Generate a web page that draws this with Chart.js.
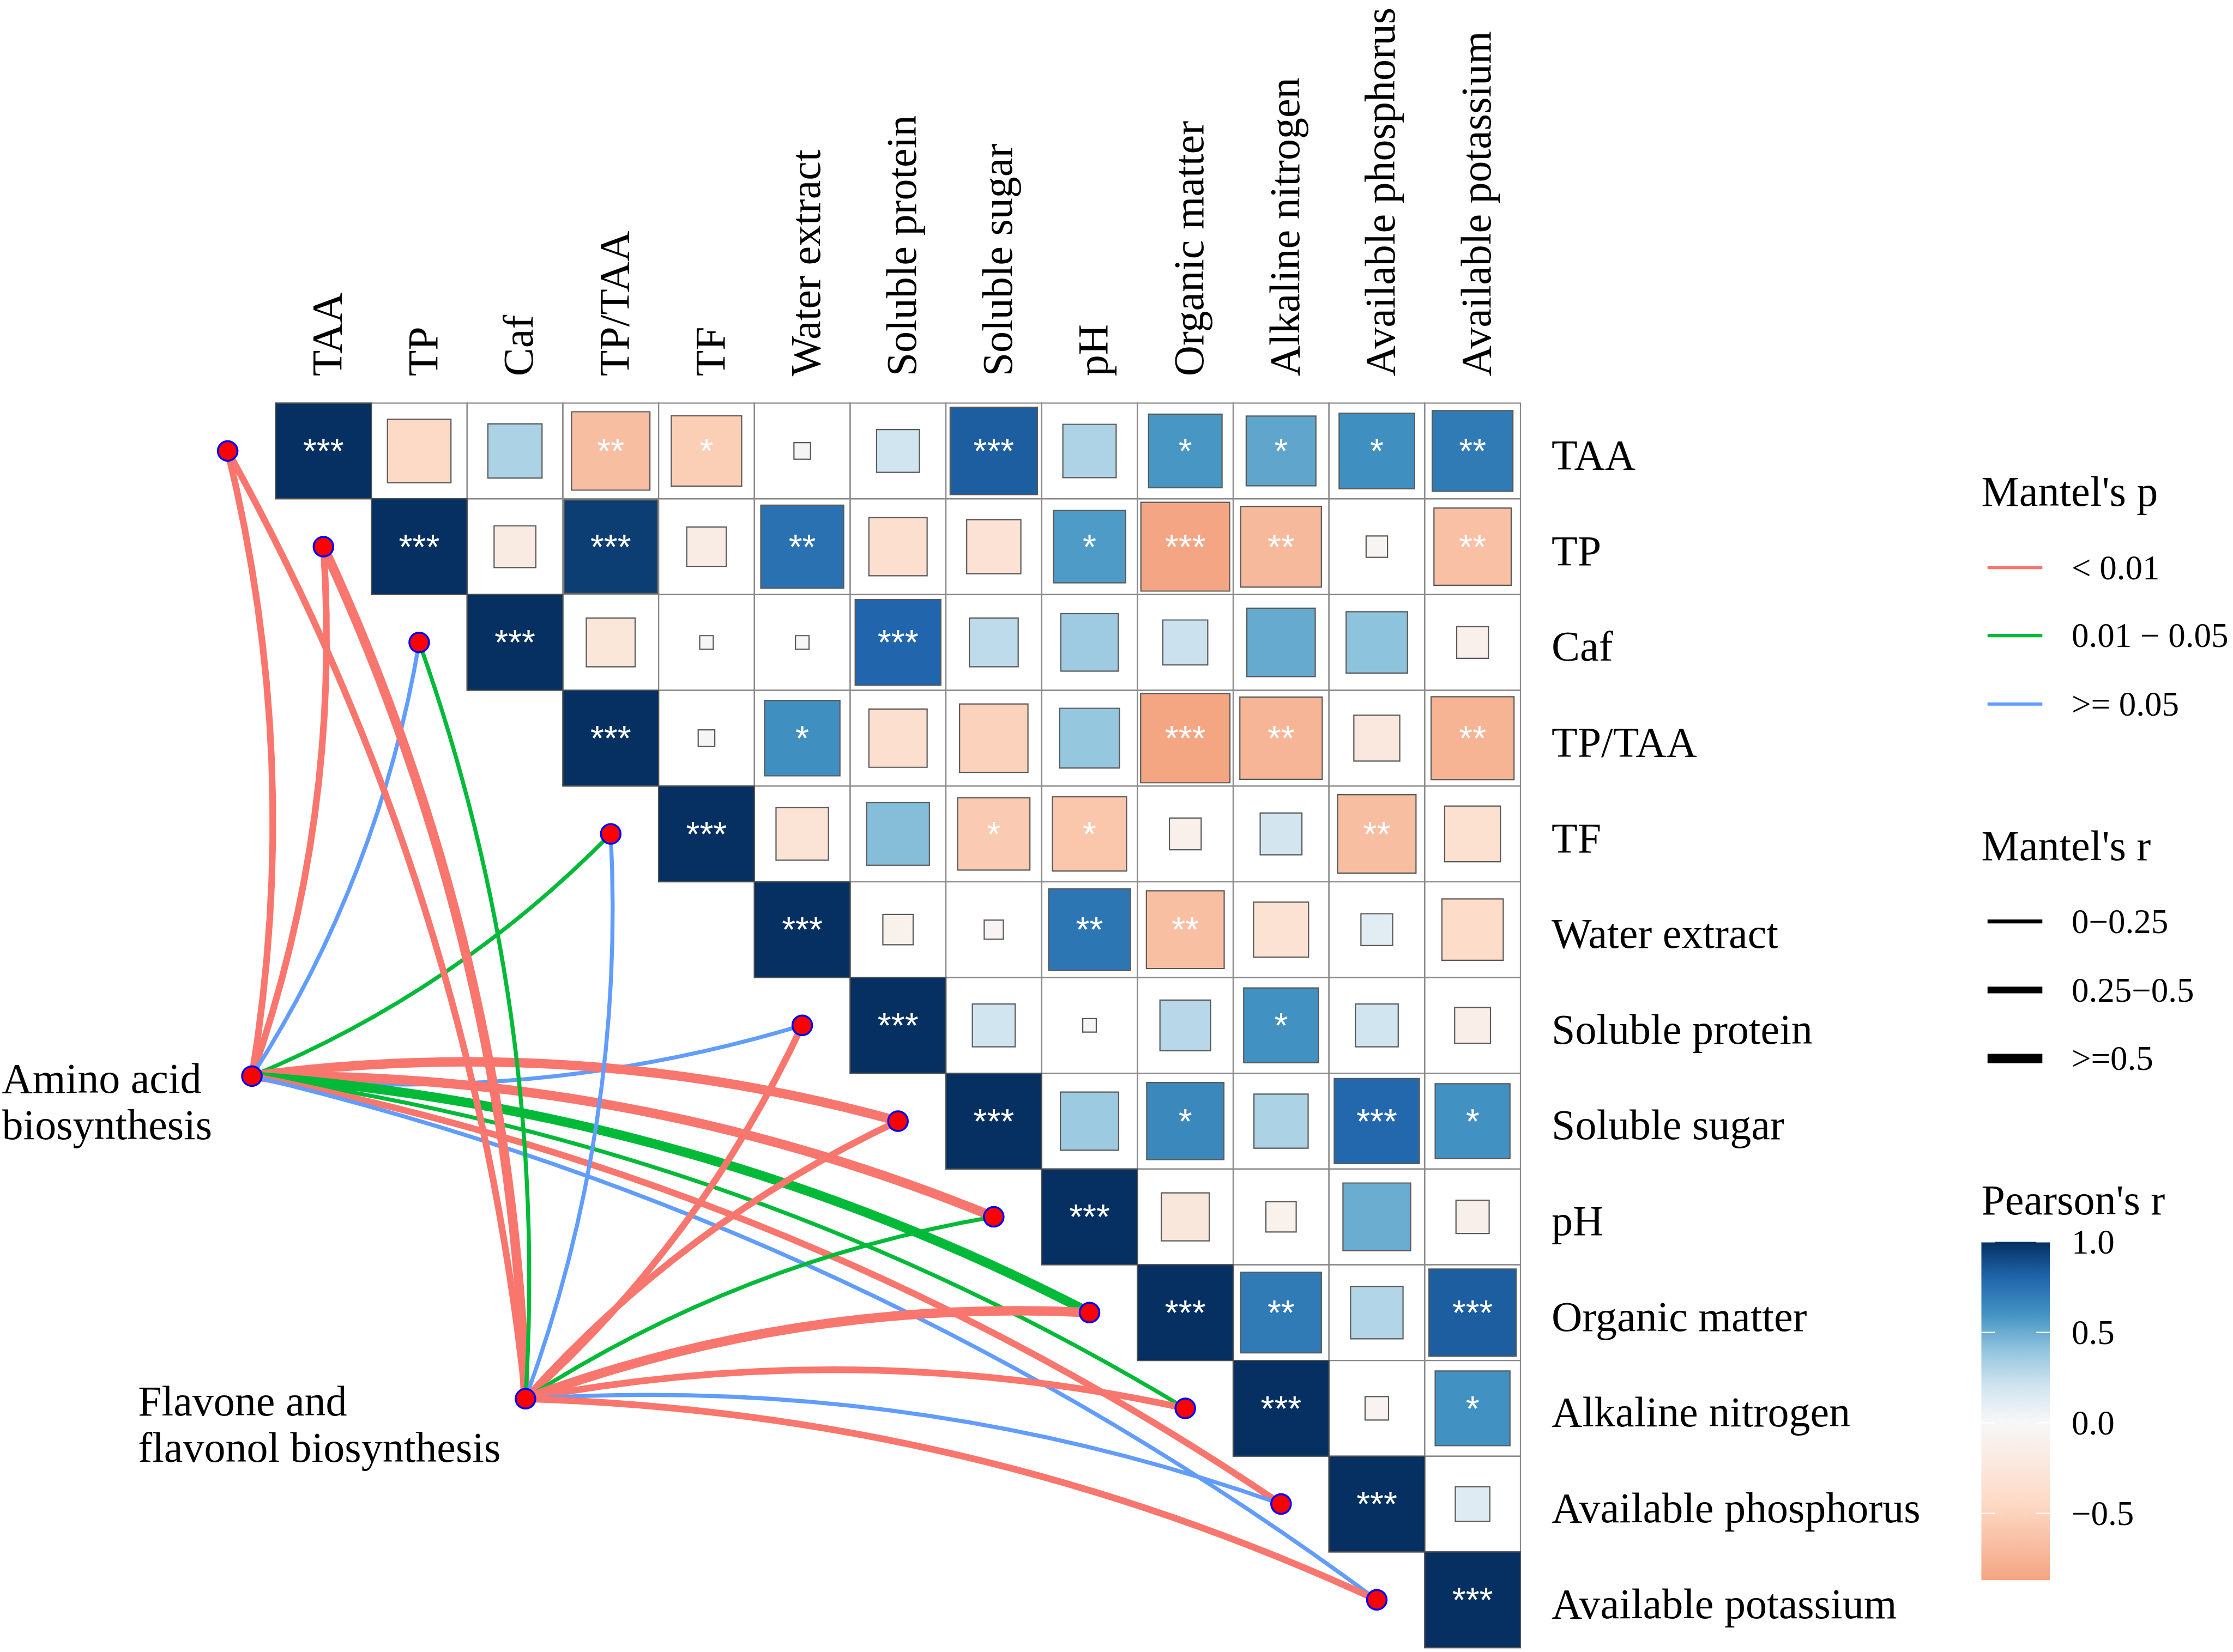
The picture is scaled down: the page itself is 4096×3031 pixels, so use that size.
<!DOCTYPE html>
<html>
<head>
<meta charset="utf-8">
<script src="https://cdn.jsdelivr.net/npm/chart.js@4.4.1/dist/chart.umd.min.js"></script>
<style>
  html, body { margin: 0; padding: 0; background: #fff; }
  canvas { display: block; }
</style>
</head>
<body>
<canvas id="chart" width="4096" height="3031"></canvas>
<script>
// ---------- data ----------
const VARS = [
  "TAA", "TP", "Caf", "TP/TAA", "TF", "Water extract", "Soluble protein",
  "Soluble sugar", "pH", "Organic matter", "Alkaline nitrogen",
  "Available phosphorus", "Available potassium",
];

// Pearson's r, upper triangle: row i starts at column i
const R_ROWS = [
  [1, -0.44, 0.32, -0.67, -0.54, -0.03, 0.2, 0.83, 0.31, 0.59, 0.53, 0.62, 0.71],
  [1, -0.19, 0.95, -0.17, 0.75, -0.37, -0.32, 0.57, -0.86, -0.71, -0.05, -0.65],
  [1, -0.26, -0.02, -0.02, 0.8, 0.26, 0.36, 0.22, 0.51, 0.41, -0.11],
  [1, -0.03, 0.62, -0.37, -0.51, 0.39, -0.87, -0.74, -0.23, -0.75],
  [1, -0.3, 0.43, -0.57, -0.6, -0.11, 0.19, -0.67, -0.34],
  [1, -0.1, -0.04, 0.73, -0.66, -0.33, 0.11, -0.41],
  [1, 0.2, -0.02, 0.28, 0.61, 0.2, -0.14],
  [1, 0.37, 0.65, 0.32, 0.79, 0.61],
  [1, -0.25, -0.1, 0.5, -0.12],
  [1, 0.71, 0.3, 0.83],
  [1, -0.06, 0.61],
  [1, 0.13],
  [1],
];
const SIG_ROWS = [
  ["***", "", "", "**", "*", "", "", "***", "", "*", "*", "*", "**"],
  ["***", "", "***", "", "**", "", "", "*", "***", "**", "", "**"],
  ["***", "", "", "", "***", "", "", "", "", "", ""],
  ["***", "", "*", "", "", "", "***", "**", "", "**"],
  ["***", "", "", "*", "*", "", "", "**", ""],
  ["***", "", "", "**", "**", "", "", ""],
  ["***", "", "", "", "*", "", ""],
  ["***", "", "*", "", "***", "*"],
  ["***", "", "", "", ""],
  ["***", "**", "", "***"],
  ["***", "", "*"],
  ["***", ""],
  ["***"],
];

// Mantel test links
const MANTEL_TARGETS = [
  "TAA", "TP", "Caf", "TF", "Soluble protein", "Soluble sugar", "pH",
  "Organic matter", "Alkaline nitrogen", "Available phosphorus", "Available potassium",
];
const P_LEVELS = ["< 0.01", "0.01 \u2212 0.05", ">= 0.05"];
const R_LEVELS = ["0\u22120.25", "0.25\u22120.5", ">=0.5"];
// level index into P_LEVELS / R_LEVELS, one per target
const AMINO_P = [0, 0, 2, 1, 2, 0, 0, 1, 1, 0, 2];
const AMINO_R = [1, 1, 0, 0, 0, 2, 2, 2, 0, 1, 0];
const FLAV_P = [0, 0, 1, 2, 0, 0, 1, 0, 0, 2, 0];
const FLAV_R = [1, 2, 0, 0, 1, 1, 0, 2, 1, 0, 1];

const PEARSON_TICKS = [1.0, 0.5, 0.0, -0.5];
const PEARSON_MIN = -0.87;
const PEARSON_MAX = 1;

// ---------- style / layout ----------
const S = 0.867;
const W = 4096, H = 3031;
const CELL = 202.6 * S;
const GRID_X0 = 583 * S;
const GRID_Y0 = 853 * S;
const SERIF = '"Liberation Serif", "Times New Roman", serif';
const SANS = '"Liberation Sans", Arial, sans-serif';
const P_COLORS = ["#F8766D", "#00BA38", "#619CFF"];
const R_WIDTHS = [8.5 * S, 14 * S, 20 * S];
const AMINO_NODE = { x: -0.247, y: 7.03 };
const FLAV_NODE = { x: 2.61, y: 10.4 };
const CURV = 0.102;
const FILL_STOPS = [
  [-0.87, "#F4A582"], [-0.435, "#FDDBC7"], [0, "#F7F7F7"], [0.2, "#D1E5F0"],
  [0.4, "#92C5DE"], [0.6, "#4393C3"], [0.8, "#2166AC"], [1, "#053061"],
];

// ---------- helpers ----------
function hex2rgb(h) {
  return [1, 3, 5].map((i) => parseInt(h.slice(i, i + 2), 16));
}
function fillFor(v) {
  if (v <= FILL_STOPS[0][0]) return FILL_STOPS[0][1];
  for (let k = 1; k < FILL_STOPS.length; k++) {
    const [v1, c1] = FILL_STOPS[k];
    if (v <= v1) {
      const [v0, c0] = FILL_STOPS[k - 1];
      const t = (v - v0) / (v1 - v0);
      const a = hex2rgb(c0), b = hex2rgb(c1);
      const m = a.map((x, i) => Math.round(x + (b[i] - x) * t));
      return `rgb(${m[0]},${m[1]},${m[2]})`;
    }
  }
  return FILL_STOPS[FILL_STOPS.length - 1][1];
}
function cellPx(chart) {
  const x = chart.scales.x;
  return x.getPixelForValue(1) - x.getPixelForValue(0);
}

// cells as scatter points
const cellPoints = [];
R_ROWS.forEach((row, i) => {
  row.forEach((v, k) => {
    const j = i + k;
    cellPoints.push({ x: j + 0.5, y: i + 0.5, v, sig: SIG_ROWS[i][k], diag: j === i });
  });
});

// target dots sit one cell left of the diagonal
const targetPoint = (name) => {
  const i = VARS.indexOf(name);
  return { x: i - 0.5, y: i + 0.5, row: i };
};
const dotPoints = MANTEL_TARGETS.map(targetPoint).concat([AMINO_NODE, FLAV_NODE]);

// ---------- plugins ----------
const bgPlugin = {
  id: "bg",
  beforeDraw(chart) {
    const c = chart.ctx;
    c.save();
    c.fillStyle = "#fff";
    c.fillRect(0, 0, chart.width, chart.height);
    c.restore();
  },
};

const gridPlugin = {
  id: "grid",
  beforeDatasetsDraw(chart) {
    const c = chart.ctx, xs = chart.scales.x, ys = chart.scales.y;
    c.save();
    c.strokeStyle = "#8a8a8a";
    c.lineWidth = 2.2;
    for (let i = 0; i < VARS.length; i++) {
      for (let j = i; j < VARS.length; j++) {
        const x0 = xs.getPixelForValue(j), x1 = xs.getPixelForValue(j + 1);
        const y0 = ys.getPixelForValue(i), y1 = ys.getPixelForValue(i + 1);
        c.strokeRect(x0, y0, x1 - x0, y1 - y0);
      }
    }
    c.restore();
  },
};

const mantelPlugin = {
  id: "mantel",
  beforeDatasetsDraw(chart) {
    const c = chart.ctx, xs = chart.scales.x, ys = chart.scales.y;
    const links = [
      [AMINO_NODE, AMINO_P, AMINO_R],
      [FLAV_NODE, FLAV_P, FLAV_R],
    ];
    c.save();
    c.lineCap = "butt";
    links.forEach(([node, pl, rl]) => {
      const p0 = { x: xs.getPixelForValue(node.x), y: ys.getPixelForValue(node.y) };
      MANTEL_TARGETS.forEach((name, k) => {
        const t = targetPoint(name);
        const p1 = { x: xs.getPixelForValue(t.x), y: ys.getPixelForValue(t.y) };
        const dx = p1.x - p0.x, dy = p1.y - p0.y;
        const sgn = t.row <= 6 ? 1 : -1;
        const cx = (p0.x + p1.x) / 2 - dy * CURV * sgn;
        const cy = (p0.y + p1.y) / 2 + dx * CURV * sgn;
        c.beginPath();
        c.moveTo(p0.x, p0.y);
        c.quadraticCurveTo(cx, cy, p1.x, p1.y);
        c.strokeStyle = P_COLORS[pl[k]];
        c.lineWidth = R_WIDTHS[rl[k]];
        c.stroke();
      });
    });
    c.restore();
  },
};

const textPlugin = {
  id: "texts",
  afterDatasetsDraw(chart) {
    const c = chart.ctx, xs = chart.scales.x, ys = chart.scales.y;
    const cp = cellPx(chart);
    c.save();

    // significance stars
    const sf = 64;
    c.fillStyle = "#fff";
    c.textAlign = "center";
    c.textBaseline = "alphabetic";
    c.font = `${sf}px ${SANS}`;
    cellPoints.forEach((p) => {
      if (!p.sig) return;
      const x = xs.getPixelForValue(p.x), y = ys.getPixelForValue(p.y);
      c.fillText(p.sig, x, y - 0.08 * cp + 0.573 * sf);
    });

    // row labels
    const fs = 78;
    c.fillStyle = "#000";
    c.font = `${fs}px ${SERIF}`;
    c.textAlign = "left";
    const gx1 = xs.getPixelForValue(VARS.length);
    VARS.forEach((name, i) => {
      c.fillText(name, gx1 + 0.325 * cp, ys.getPixelForValue(i + 0.5) + 0.43 * fs);
    });

    // column labels (rotated)
    const gy0 = ys.getPixelForValue(0);
    VARS.forEach((name, j) => {
      c.save();
      c.translate(xs.getPixelForValue(j + 0.5), gy0 - 0.28 * cp);
      c.rotate(-Math.PI / 2);
      c.fillText(name, 0, 0.42 * fs);
      c.restore();
    });

    // node labels
    c.fillText("Amino acid", 4 * S, 2312 * S);
    c.fillText("biosynthesis", 4 * S, 2411 * S);
    c.fillText("Flavone and", 292 * S, 2995 * S);
    c.fillText("flavonol biosynthesis", 292 * S, 3094 * S);

    // legends
    const LX = 4192 * S, LL0 = 4205 * S, LL1 = 4321 * S, LT = 4383 * S;
    const lf = 63;
    c.font = `${fs}px ${SERIF}`;
    c.fillText("Mantel's p", LX, 1070 * S);
    c.fillText("Mantel's r", LX, 1820 * S);
    c.fillText("Pearson's r", LX, 2570 * S);

    c.font = `${lf}px ${SERIF}`;
    const pY = [1201, 1345, 1490].map((v) => v * S);
    P_LEVELS.forEach((lab, k) => {
      c.beginPath();
      c.moveTo(LL0, pY[k]);
      c.lineTo(LL1, pY[k]);
      c.strokeStyle = P_COLORS[k];
      c.lineWidth = 7 * S;
      c.stroke();
      c.fillText(lab, LT, pY[k] + 0.338 * lf);
    });
    const rY = [1950, 2095, 2240].map((v) => v * S);
    R_LEVELS.forEach((lab, k) => {
      c.beginPath();
      c.moveTo(LL0, rY[k]);
      c.lineTo(LL1, rY[k]);
      c.strokeStyle = "#000";
      c.lineWidth = R_WIDTHS[k];
      c.stroke();
      c.fillText(lab, LT, rY[k] + 0.338 * lf);
    });

    // colour bar
    const bx0 = 4192 * S, bx1 = 4337 * S, by0 = 2628 * S, by1 = 3344 * S;
    const vy = (v) => by0 + ((PEARSON_MAX - v) / (PEARSON_MAX - PEARSON_MIN)) * (by1 - by0);
    const g = c.createLinearGradient(0, by0, 0, by1);
    for (let k = 0; k <= 60; k++) {
      const v = PEARSON_MAX - (k / 60) * (PEARSON_MAX - PEARSON_MIN);
      g.addColorStop(k / 60, fillFor(v));
    }
    c.fillStyle = g;
    c.fillRect(bx0, by0, bx1 - bx0, by1 - by0);
    c.strokeStyle = "#fff";
    c.lineWidth = 2;
    c.fillStyle = "#000";
    PEARSON_TICKS.forEach((t) => {
      const y = vy(t);
      c.beginPath();
      c.moveTo(bx0, y); c.lineTo(bx0 + 25, y);
      c.moveTo(bx1 - 25, y); c.lineTo(bx1, y);
      c.stroke();
      const lab = t < 0 ? "\u2212" + Math.abs(t).toFixed(1) : t.toFixed(1);
      c.fillText(lab, LT, y + 0.338 * lf);
    });

    c.restore();
  },
};

// ---------- chart ----------
const ctx = document.getElementById("chart").getContext("2d");
new Chart(ctx, {
  type: "scatter",
  data: {
    datasets: [
      {
        label: "cells",
        data: cellPoints,
        order: 2,
        pointStyle: "rect",
        backgroundColor: (c) => fillFor(c.raw.v),
        borderColor: (c) => (c.raw.diag ? "#505050" : "#5a5a5a"),
        borderWidth: 2.2,
        radius: (c) => (cellPx(c.chart) * Math.sqrt(Math.abs(c.raw.v))) / Math.SQRT2,
      },
      {
        label: "dots",
        data: dotPoints,
        order: 0,
        pointStyle: "circle",
        backgroundColor: "#FF0000",
        borderColor: "#0000FF",
        borderWidth: 3.5,
        radius: 18,
      },
    ],
  },
  options: {
    responsive: false,
    animation: false,
    devicePixelRatio: 1,
    events: [],
    layout: { padding: 0, autoPadding: false },
    plugins: { legend: { display: false }, tooltip: { enabled: false } },
    scales: {
      x: { type: "linear", display: false, min: -GRID_X0 / CELL, max: (W - GRID_X0) / CELL },
      y: { type: "linear", display: false, reverse: true, min: -GRID_Y0 / CELL, max: (H - GRID_Y0) / CELL },
    },
  },
  plugins: [bgPlugin, gridPlugin, mantelPlugin, textPlugin],
});
</script>
</body>
</html>
